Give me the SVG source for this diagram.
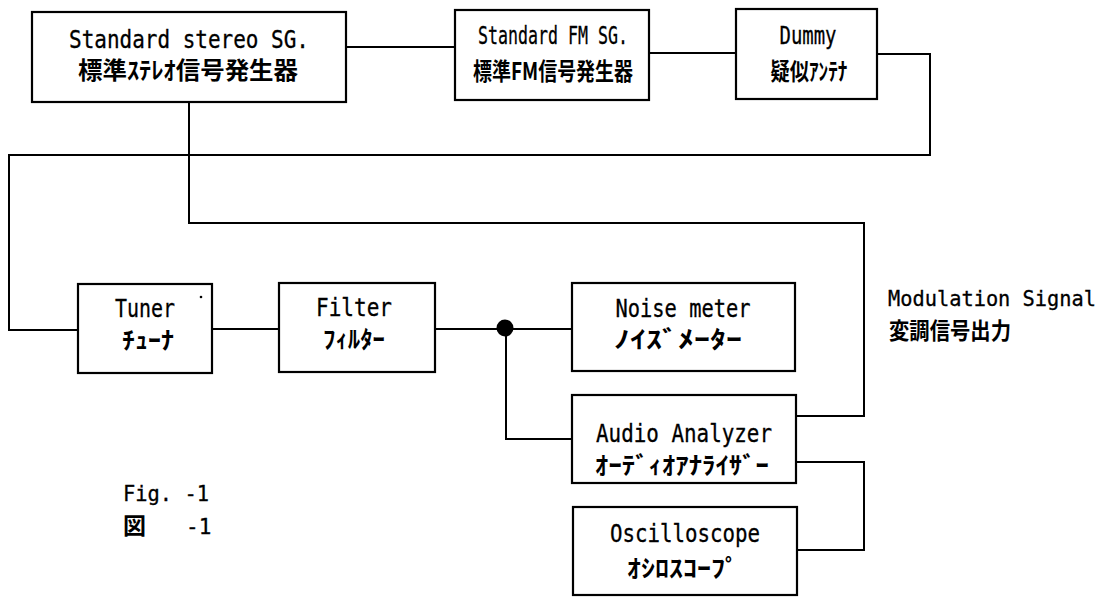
<svg xmlns="http://www.w3.org/2000/svg" width="1105" height="597" viewBox="0 0 1105 597">
<style>
.box{fill:#fff;stroke:#000;stroke-width:2.2}
.ln{fill:none;stroke:#000;stroke-width:2}
.en{font-family:"DejaVu Sans Mono","Liberation Mono",monospace;font-size:24px;fill:#000;stroke:#000;stroke-width:0.3;text-anchor:middle}
.jp{font-family:"Noto Sans CJK JP","Noto Sans CJK SC",sans-serif;font-size:24px;font-weight:bold;fill:#000;text-anchor:middle}
.enl{font-family:"DejaVu Sans Mono","Liberation Mono",monospace;font-size:21px;font-weight:normal;fill:#000;stroke:#000;stroke-width:0.3}
.jpl{font-family:"Noto Sans CJK JP","Noto Sans CJK SC",sans-serif;font-size:23px;font-weight:bold;fill:#000}
</style>
<rect width="1105" height="597" fill="#fff"/>
<g id="connectors">
<path class="ln" d="M346,47 H455"/>
<path class="ln" d="M649,53 H736"/>
<path class="ln" d="M877,54 H930 V155 H9 V330 H78"/>
<path class="ln" d="M189,102 V223 H864 V416 H796"/>
<path class="ln" d="M212,329 H279"/>
<path class="ln" d="M435,329 H572"/>
<path class="ln" d="M506,328 V439 H572"/>
<path class="ln" d="M796,462 H864 V550 H797"/>
<circle cx="505" cy="328" r="8.5" fill="#000"/>
</g>
<g id="stereo-sg">
<rect class="box" x="32" y="12" width="314" height="90"/>
<text class="en" x="189" y="48" textLength="240" lengthAdjust="spacingAndGlyphs">Standard stereo SG.</text>
<text class="jp" x="188" y="79" textLength="220" lengthAdjust="spacingAndGlyphs">標準ｽﾃﾚｵ信号発生器</text>
</g>
<g id="fm-sg">
<rect class="box" x="455" y="10" width="194" height="90"/>
<text class="en" x="553" y="44" textLength="150" lengthAdjust="spacingAndGlyphs">Standard FM SG.</text>
<text class="jp" x="553" y="80" textLength="160" lengthAdjust="spacingAndGlyphs">標準FM信号発生器</text>
</g>
<g id="dummy">
<rect class="box" x="736" y="9" width="141" height="90"/>
<text class="en" x="808" y="44" textLength="57" lengthAdjust="spacingAndGlyphs">Dummy</text>
<text class="jp" x="809" y="80" textLength="77" lengthAdjust="spacingAndGlyphs">疑似ｱﾝﾃﾅ</text>
</g>
<g id="tuner">
<rect class="box" x="78" y="284" width="134" height="89"/>
<text class="en" x="145" y="317" textLength="60" lengthAdjust="spacingAndGlyphs">Tuner</text>
<text class="jp" x="148" y="349" textLength="52" lengthAdjust="spacingAndGlyphs">ﾁｭｰﾅ</text>
<circle cx="201" cy="297" r="1.3" fill="#000"/>
</g>
<g id="filter">
<rect class="box" x="279" y="283" width="156" height="89"/>
<text class="en" x="354" y="316" textLength="76" lengthAdjust="spacingAndGlyphs">Filter</text>
<text class="jp" x="354" y="348" textLength="62" lengthAdjust="spacingAndGlyphs">ﾌｨﾙﾀｰ</text>
</g>
<g id="noise-meter">
<rect class="box" x="572" y="283" width="223" height="88"/>
<text class="en" x="683" y="317" textLength="135" lengthAdjust="spacingAndGlyphs">Noise meter</text>
<text class="jp" x="678" y="348" textLength="128" lengthAdjust="spacingAndGlyphs">ﾉｲｽﾞﾒｰﾀｰ</text>
</g>
<g id="audio-analyzer">
<rect class="box" x="572" y="395" width="224" height="88"/>
<text class="en" x="684" y="442" textLength="176" lengthAdjust="spacingAndGlyphs">Audio Analyzer</text>
<text class="jp" x="682" y="474" textLength="174" lengthAdjust="spacingAndGlyphs">ｵｰﾃﾞｨｵｱﾅﾗｲｻﾞｰ</text>
</g>
<g id="oscilloscope">
<rect class="box" x="573" y="507" width="224" height="88"/>
<text class="en" x="685" y="542" textLength="150" lengthAdjust="spacingAndGlyphs">Oscilloscope</text>
<text class="jp" x="683" y="577" textLength="112" lengthAdjust="spacingAndGlyphs">ｵｼﾛｽｺｰﾌﾟ</text>
</g>
<g id="modulation-label">
<text class="enl" x="888" y="306" textLength="208" lengthAdjust="spacingAndGlyphs">Modulation Signal</text>
<text class="jpl" x="889" y="339" textLength="122" lengthAdjust="spacingAndGlyphs">変調信号出力</text>
</g>
<g id="figure-caption">
<text class="enl" x="123" y="501" textLength="86" lengthAdjust="spacingAndGlyphs">Fig. -1</text>
<text class="jpl" x="123" y="534">図 <tspan class="enl" x="186">-1</tspan></text>
</g>
</svg>
